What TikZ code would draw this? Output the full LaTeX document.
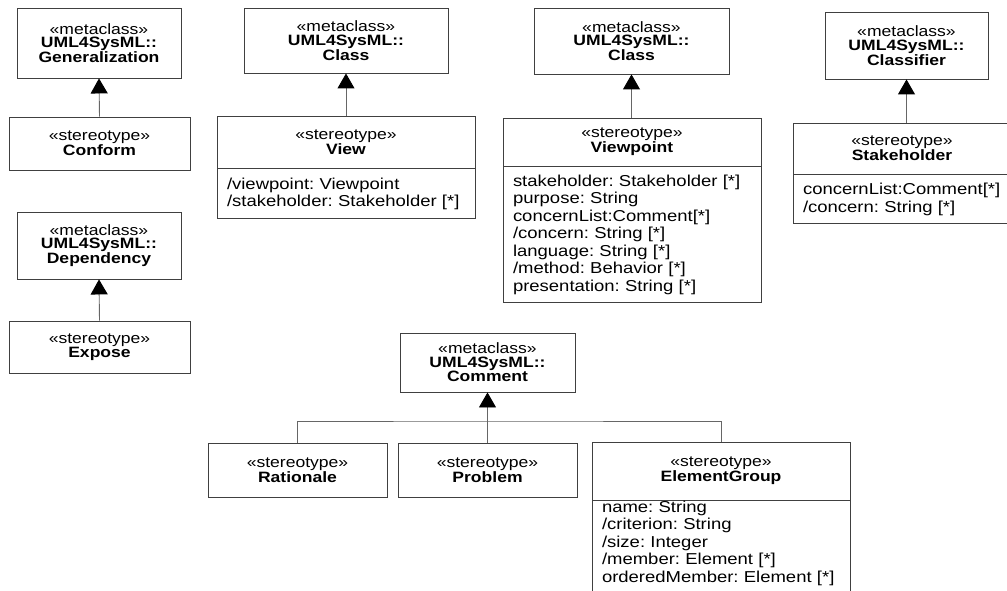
\documentclass[tikz,border=0pt]{standalone}
\usepackage{fontspec}
\setmainfont{Liberation Sans}[FakeStretch=1.17]
\usetikzlibrary{arrows.meta}
\frenchspacing

\begin{document}
\begin{tikzpicture}[x=1pt, y=-1pt,
  classbox/.style={draw=black!75, line width=0.9pt, align=center, inner sep=0pt, font=\fontsize{15}{13.5}\selectfont},
  attrbox/.style={draw=black!75, line width=0.9pt, anchor=north, align=left, inner xsep=10pt, inner ysep=0pt, font=\fontsize{15.8}{17.5}\selectfont\frenchspacing},
  link/.style={draw=black!60, line width=0.9pt},
  gen/.style={link, -{Triangle[width=17pt, length=15pt, color=black]}}]
\useasboundingbox (0,0) rectangle (1007,591);
\node[classbox, minimum width=164pt, minimum height=70pt] (genmeta) at (99,43) {«metaclass»\\\textbf{UML4SysML::}\\\textbf{Generalization}};
\node[classbox, minimum width=181pt, minimum height=53pt] (conform) at (99.5,143.5) {«stereotype»\\\textbf{Conform}};
\node[classbox, minimum width=164pt, minimum height=67pt] (depmeta) at (99,245.5) {«metaclass»\\\textbf{UML4SysML::}\\\textbf{Dependency}};
\node[classbox, minimum width=181pt, minimum height=52pt] (expose) at (99.5,347) {«stereotype»\\\textbf{Expose}};
\node[classbox, minimum width=204pt, minimum height=65pt] (viewmeta) at (346,40.5) {«metaclass»\\\textbf{UML4SysML::}\\\textbf{Class}};
\node[classbox, minimum width=258pt, minimum height=52pt] (view) at (346,142) {«stereotype»\\\textbf{View}};
\node[attrbox, text width=238pt, minimum height=50pt] (viewattr) at (view.south) {/viewpoint: Viewpoint\\/stakeholder: Stakeholder [*]};
\node[classbox, minimum width=195pt, minimum height=66pt] (vpmeta) at (631.5,41) {«metaclass»\\\textbf{UML4SysML::}\\\textbf{Class}};
\node[classbox, minimum width=258pt, minimum height=48pt] (viewpoint) at (632,142) {«stereotype»\\\textbf{Viewpoint}};
\node[attrbox, text width=238pt, minimum height=136pt] (vpattr) at (viewpoint.south) {stakeholder: Stakeholder [*]\\purpose: String\\concernList:Comment[*]\\/concern: String [*]\\language: String [*]\\/method: Behavior [*]\\presentation: String [*]};
\node[classbox, minimum width=163pt, minimum height=67pt] (clsmeta) at (906.5,45.5) {«metaclass»\\\textbf{UML4SysML::}\\\textbf{Classifier}};
\node[classbox, minimum width=218pt, minimum height=51pt] (stakeholder) at (902,148.5) {«stereotype»\\\textbf{Stakeholder}};
\node[attrbox, text width=198pt, minimum height=49pt] (shattr) at (stakeholder.south) {concernList:Comment[*]\\/concern: String [*]};
\node[classbox, minimum width=175pt, minimum height=59pt] (commentmeta) at (487.5,362.5) {«metaclass»\\\textbf{UML4SysML::}\\\textbf{Comment}};
\node[classbox, minimum width=179pt, minimum height=54pt] (rationale) at (297.5,470) {«stereotype»\\\textbf{Rationale}};
\node[classbox, minimum width=179pt, minimum height=54pt] (problem) at (487.5,470) {«stereotype»\\\textbf{Problem}};
\node[classbox, minimum width=258pt, minimum height=58pt] (elemgroup) at (721,471) {«stereotype»\\\textbf{ElementGroup}};
\node[attrbox, text width=238pt, text depth=100pt] (egattr) at (elemgroup.south) {name: String\\/criterion: String\\/size: Integer\\/member: Element [*]\\orderedMember: Element [*]};
\coordinate (bar) at (487.5,421);
\draw[gen] (conform.north) -- (genmeta.south);
\draw[gen] (expose.north) -- (depmeta.south);
\draw[gen] (view.north) -- (viewmeta.south);
\draw[gen] (viewpoint.north -| vpmeta.south) -- (vpmeta.south);
\draw[gen] (stakeholder.north -| clsmeta.south) -- (clsmeta.south);
\draw[gen] (problem.north) -- (commentmeta.south);
\draw[link] (rationale.north) |- (bar) -| (elemgroup.north);
\end{tikzpicture}
\end{document}
